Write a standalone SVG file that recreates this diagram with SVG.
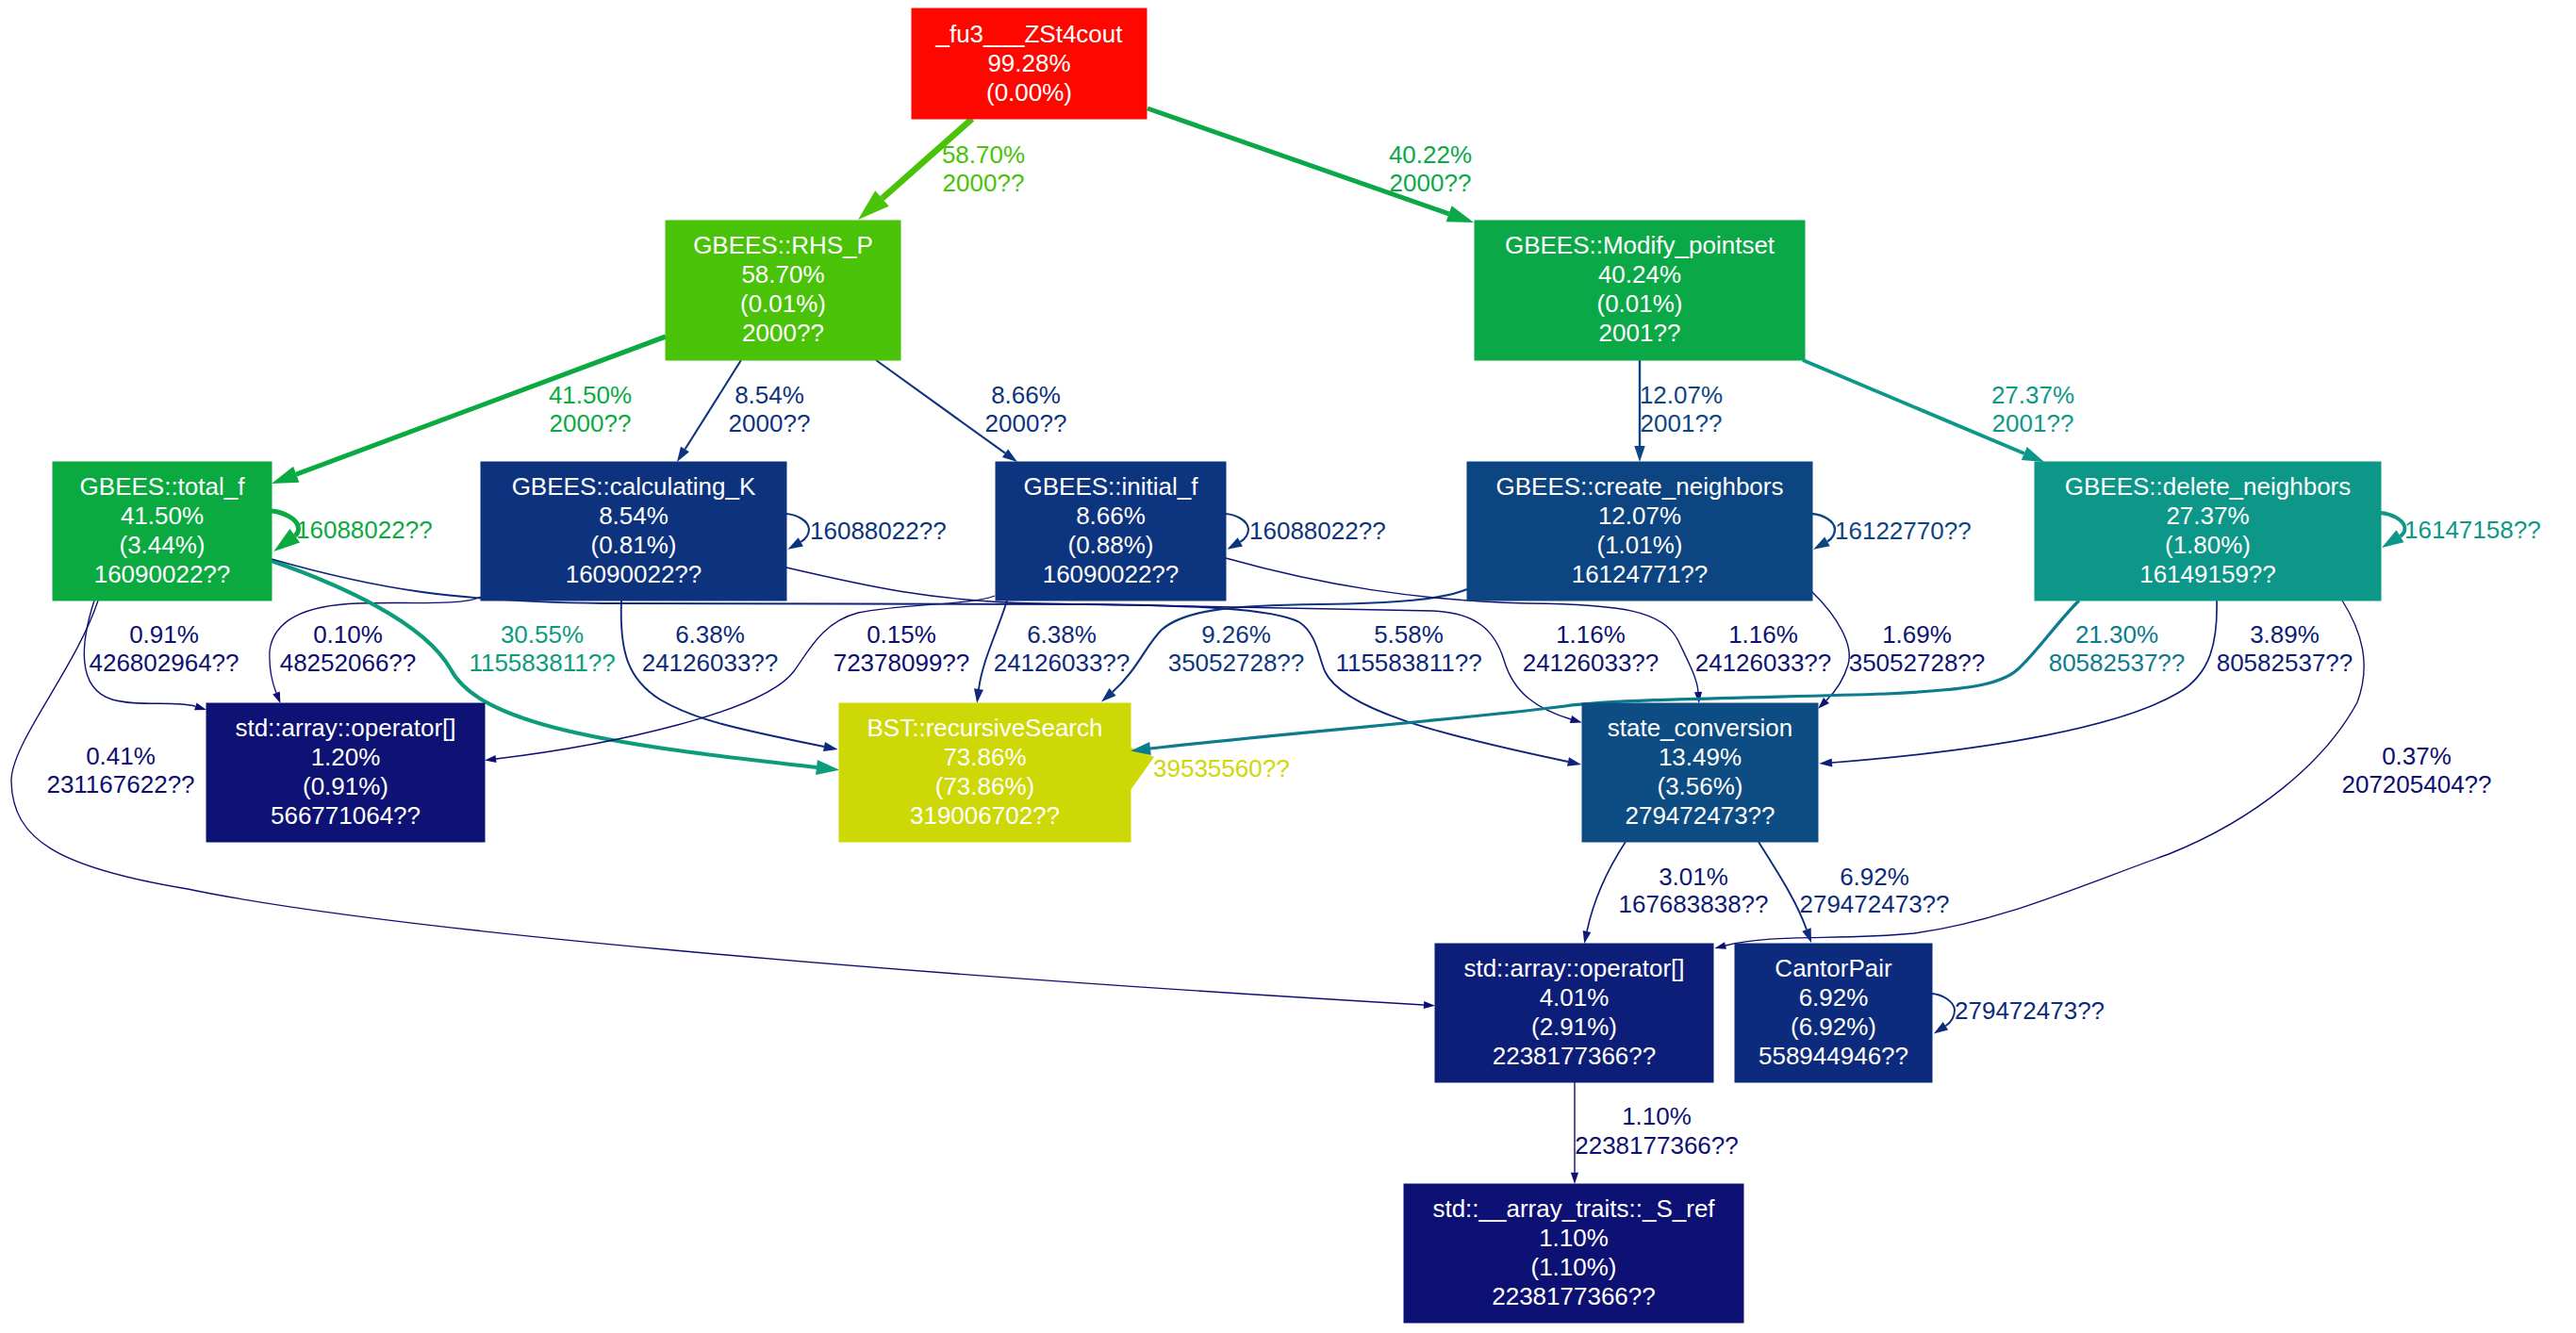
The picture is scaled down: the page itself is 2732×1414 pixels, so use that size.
<svg xmlns="http://www.w3.org/2000/svg" width="2732" height="1414" viewBox="0 0 2732 1414">
<style>
text{font-family:"Liberation Sans",Arial,Helvetica,sans-serif;font-size:26px}
.node rect{stroke-width:1}
.node text{fill:#ffffff;text-anchor:middle}
.edges path{fill:none;stroke-linejoin:round}
.el{text-anchor:middle}
.sl{text-anchor:start}
</style>
<defs>
<marker id="mA" markerUnits="userSpaceOnUse" orient="auto" refX="0" refY="0" markerWidth="40" markerHeight="30" overflow="visible"><path d="M0,-11L34,0L0,11Z" fill="#49c208"/></marker>
<marker id="mB" markerUnits="userSpaceOnUse" orient="auto" refX="0" refY="0" markerWidth="40" markerHeight="30" overflow="visible"><path d="M0,-9L28,0L0,9Z" fill="#0ba848"/></marker>
<marker id="mC" markerUnits="userSpaceOnUse" orient="auto" refX="0" refY="0" markerWidth="40" markerHeight="30" overflow="visible"><path d="M0,-9L28,0L0,9Z" fill="#0baa41"/></marker>
<marker id="mD" markerUnits="userSpaceOnUse" orient="auto" refX="0" refY="0" markerWidth="40" markerHeight="30" overflow="visible"><path d="M0,-8L24.5,0L0,8Z" fill="#0c9b7b"/></marker>
<marker id="mE" markerUnits="userSpaceOnUse" orient="auto" refX="0" refY="0" markerWidth="40" markerHeight="30" overflow="visible"><path d="M0,-7.6L23,0L0,7.6Z" fill="#0c9789"/></marker>
<marker id="mF" markerUnits="userSpaceOnUse" orient="auto" refX="0" refY="0" markerWidth="40" markerHeight="30" overflow="visible"><path d="M0,-7L21,0L0,7Z" fill="#0c7b8e"/></marker>
<marker id="mG" markerUnits="userSpaceOnUse" orient="auto" refX="0" refY="0" markerWidth="40" markerHeight="30" overflow="visible"><path d="M0,-5.7L17,0L0,5.7Z" fill="#0d4582"/></marker>
<marker id="mH" markerUnits="userSpaceOnUse" orient="auto" refX="0" refY="0" markerWidth="40" markerHeight="30" overflow="visible"><path d="M0,-5.3L16,0L0,5.3Z" fill="#0d337e"/></marker>
<marker id="mI" markerUnits="userSpaceOnUse" orient="auto" refX="0" refY="0" markerWidth="40" markerHeight="30" overflow="visible"><path d="M0,-5.3L16,0L0,5.3Z" fill="#0d347e"/></marker>
<marker id="mJ" markerUnits="userSpaceOnUse" orient="auto" refX="0" refY="0" markerWidth="40" markerHeight="30" overflow="visible"><path d="M0,-5.3L16,0L0,5.3Z" fill="#0d377f"/></marker>
<marker id="mK" markerUnits="userSpaceOnUse" orient="auto" refX="0" refY="0" markerWidth="40" markerHeight="30" overflow="visible"><path d="M0,-5L15,0L0,5Z" fill="#0d297b"/></marker>
<marker id="mL" markerUnits="userSpaceOnUse" orient="auto" refX="0" refY="0" markerWidth="40" markerHeight="30" overflow="visible"><path d="M0,-5L15,0L0,5Z" fill="#0d2b7c"/></marker>
<marker id="mM" markerUnits="userSpaceOnUse" orient="auto" refX="0" refY="0" markerWidth="40" markerHeight="30" overflow="visible"><path d="M0,-4.8L14.4,0L0,4.8Z" fill="#0d257a"/></marker>
<marker id="mN" markerUnits="userSpaceOnUse" orient="auto" refX="0" refY="0" markerWidth="40" markerHeight="30" overflow="visible"><path d="M0,-4.5L13.7,0L0,4.5Z" fill="#0d1d78"/></marker>
<marker id="mO" markerUnits="userSpaceOnUse" orient="auto" refX="0" refY="0" markerWidth="40" markerHeight="30" overflow="visible"><path d="M0,-4.4L13.3,0L0,4.4Z" fill="#0d1977"/></marker>
<marker id="mP" markerUnits="userSpaceOnUse" orient="auto" refX="0" refY="0" markerWidth="40" markerHeight="30" overflow="visible"><path d="M0,-4.2L12.5,0L0,4.2Z" fill="#0d1475"/></marker>
<marker id="mQ" markerUnits="userSpaceOnUse" orient="auto" refX="0" refY="0" markerWidth="40" markerHeight="30" overflow="visible"><path d="M0,-4.1L12.3,0L0,4.1Z" fill="#0d1274"/></marker>
<marker id="mR" markerUnits="userSpaceOnUse" orient="auto" refX="0" refY="0" markerWidth="40" markerHeight="30" overflow="visible"><path d="M0,-4.1L12.3,0L0,4.1Z" fill="#0d1174"/></marker>
<marker id="mS" markerUnits="userSpaceOnUse" orient="auto" refX="0" refY="0" markerWidth="40" markerHeight="30" overflow="visible"><path d="M0,-4L12,0L0,4Z" fill="#0d0e73"/></marker>
<marker id="mT" markerUnits="userSpaceOnUse" orient="auto" refX="0" refY="0" markerWidth="40" markerHeight="30" overflow="visible"><path d="M0,-4L12,0L0,4Z" fill="#0d0d73"/></marker>
</defs>
<rect width="2732" height="1414" fill="#ffffff"/>
<g id="edges" class="edges">
<path d="M1031,126L935.5,210.5" stroke="#49c208" stroke-width="6.6" marker-end="url(#mA)"/>
<path d="M1217,115L1536.6,226.8" stroke="#0ba848" stroke-width="5" marker-end="url(#mB)"/>
<path d="M706,357L314.2,503.2" stroke="#0baa41" stroke-width="5.1" marker-end="url(#mC)"/>
<path d="M786,382L726.5,476.5" stroke="#0d337e" stroke-width="2.1" marker-end="url(#mH)"/>
<path d="M929,382L1066,480.7" stroke="#0d347e" stroke-width="2.1" marker-end="url(#mI)"/>
<path d="M1739,382L1739,473" stroke="#0d4582" stroke-width="2.4" marker-end="url(#mG)"/>
<path d="M1912,382L2146.8,481" stroke="#0c9789" stroke-width="3.8" marker-end="url(#mE)"/>
<path d="M288,542C300,543 314,550 316,558C317,562 317,565 312.7,568.2" stroke="#0baa41" stroke-width="5.1" marker-end="url(#mC)"/>
<path d="M834,545C845,546 857,552 858,561C858,566 856,571 849.3,574.8" stroke="#0d337e" stroke-width="2.1" marker-end="url(#mH)"/>
<path d="M1300,545C1311,546 1323,552 1324,561C1324,566 1322,571 1315.3,574.8" stroke="#0d347e" stroke-width="2.1" marker-end="url(#mI)"/>
<path d="M1922,545C1933,546 1945,552 1946,561C1946,566 1944,571 1938,574.4" stroke="#0d4582" stroke-width="2.4" marker-end="url(#mG)"/>
<path d="M2525,544C2536,545 2548,551 2550,558C2551,562 2550,566 2545.5,568.8" stroke="#0c9789" stroke-width="3.8" marker-end="url(#mE)"/>
<path d="M2049,1054C2060,1055 2072,1062 2073,1071C2073,1077 2070,1084 2063.4,1088.3" stroke="#0d2b7c" stroke-width="1.9" marker-end="url(#mL)"/>
<polygon points="1199,793 1224,803 1199,838" fill="#ced806"/>
<path d="M100,637C86,680 80,730 119,742C145,750 188,743 207.3,749.3" stroke="#0d1174" stroke-width="1.4" marker-end="url(#mR)"/>
<path d="M510,633C490,643 430,638 380,640C320,642 290,660 286,690C285,710 289,725 293,735" stroke="#0d0d73" stroke-width="1.3" marker-end="url(#mT)"/>
<path d="M288,595C360,620 450,660 478,710C510,770 650,790 866,814" stroke="#0c9b7b" stroke-width="4.1" marker-end="url(#mD)"/>
<path d="M659,637C657,690 665,720 700,742C735,763 780,773 874,792" stroke="#0d297b" stroke-width="1.9" marker-end="url(#mK)"/>
<path d="M1055,632C1030,642 960,640 910,650C872,660 858,690 842,712C810,755 650,790 526,805" stroke="#0d0d73" stroke-width="1.3" marker-end="url(#mT)"/>
<path d="M1068,637C1058,670 1042,700 1038,731" stroke="#0d297b" stroke-width="1.9" marker-end="url(#mK)"/>
<path d="M1556,625C1530,636 1480,640 1400,641C1300,642 1255,648 1232,668C1215,685 1205,712 1180,734" stroke="#0d377f" stroke-width="2.2" marker-end="url(#mJ)"/>
<path d="M288,593C400,625 480,638 640,640L1150,641C1260,642 1350,645 1378,660C1396,672 1398,695 1405,712C1425,755 1540,782 1663,808" stroke="#0d257a" stroke-width="1.8" marker-end="url(#mM)"/>
<path d="M834,602C920,622 990,638 1100,640L1520,648C1565,650 1585,668 1595,700C1605,735 1630,752 1666,763" stroke="#0d1274" stroke-width="1.4" marker-end="url(#mQ)"/>
<path d="M1300,592C1400,620 1500,637 1620,640C1720,641 1765,648 1780,680C1792,705 1800,720 1801,734" stroke="#0d1274" stroke-width="1.4" marker-end="url(#mQ)"/>
<path d="M1921,627C1950,655 1966,685 1960,705C1955,722 1947,733 1937,743" stroke="#0d1475" stroke-width="1.45" marker-end="url(#mP)"/>
<path d="M2205,637C2180,662 2160,692 2140,710C2120,728 2080,732 2000,736C1880,740 1720,741 1660,749C1560,762 1360,778 1220,794" stroke="#0c7b8e" stroke-width="3.2" marker-end="url(#mF)"/>
<path d="M2351,637C2352,680 2345,715 2310,735C2250,770 2120,795 1943,809" stroke="#0d1d78" stroke-width="1.65" marker-end="url(#mN)"/>
<path d="M2484,637C2505,670 2515,705 2500,745C2465,810 2390,870 2300,906C2200,942 2120,978 2030,990C1950,998 1880,990 1830,1003" stroke="#0d0e73" stroke-width="1.35" marker-end="url(#mS)"/>
<path d="M104,637C80,710 10,790 12,830C14,890 60,920 199,943C400,985 900,1030 1510,1066" stroke="#0d0e73" stroke-width="1.35" marker-end="url(#mS)"/>
<path d="M1724,893C1705,922 1690,955 1683,988" stroke="#0d1977" stroke-width="1.57" marker-end="url(#mO)"/>
<path d="M1865,893C1885,925 1905,955 1916,986" stroke="#0d2b7c" stroke-width="1.9" marker-end="url(#mL)"/>
<path d="M1670,1148L1670,1243.7" stroke="#0d1174" stroke-width="1.4" marker-end="url(#mR)"/>
</g>
<g id="edge-labels">
<text class="el" fill="#49c208" x="1043" y="173">58.70%</text><text class="el" fill="#49c208" x="1043" y="203">2000??</text>
<text class="el" fill="#0ba848" x="1517" y="173">40.22%</text><text class="el" fill="#0ba848" x="1517" y="203">2000??</text>
<text class="el" fill="#0baa41" x="626" y="428">41.50%</text><text class="el" fill="#0baa41" x="626" y="458">2000??</text>
<text class="el" fill="#0d337e" x="816" y="428">8.54%</text><text class="el" fill="#0d337e" x="816" y="458">2000??</text>
<text class="el" fill="#0d347e" x="1088" y="428">8.66%</text><text class="el" fill="#0d347e" x="1088" y="458">2000??</text>
<text class="el" fill="#0d4582" x="1783" y="428">12.07%</text><text class="el" fill="#0d4582" x="1783" y="458">2001??</text>
<text class="el" fill="#0c9789" x="2156" y="428">27.37%</text><text class="el" fill="#0c9789" x="2156" y="458">2001??</text>
<text class="sl" fill="#0baa41" x="314" y="571">16088022??</text>
<text class="sl" fill="#0d337e" x="859" y="572">16088022??</text>
<text class="sl" fill="#0d347e" x="1325" y="572">16088022??</text>
<text class="sl" fill="#0d4582" x="1946" y="572">16122770??</text>
<text class="sl" fill="#0c9789" x="2550" y="571">16147158??</text>
<text class="sl" fill="#ced806" x="1223" y="824">39535560??</text>
<text class="sl" fill="#0d2b7c" x="2073" y="1081">279472473??</text>
<text class="el" fill="#0d1174" x="174" y="682">0.91%</text><text class="el" fill="#0d1174" x="174" y="712">426802964??</text>
<text class="el" fill="#0d0d73" x="369" y="682">0.10%</text><text class="el" fill="#0d0d73" x="369" y="712">48252066??</text>
<text class="el" fill="#0c9b7b" x="575" y="682">30.55%</text><text class="el" fill="#0c9b7b" x="575" y="712">115583811??</text>
<text class="el" fill="#0d297b" x="753" y="682">6.38%</text><text class="el" fill="#0d297b" x="753" y="712">24126033??</text>
<text class="el" fill="#0d0d73" x="956" y="682">0.15%</text><text class="el" fill="#0d0d73" x="956" y="712">72378099??</text>
<text class="el" fill="#0d297b" x="1126" y="682">6.38%</text><text class="el" fill="#0d297b" x="1126" y="712">24126033??</text>
<text class="el" fill="#0d377f" x="1311" y="682">9.26%</text><text class="el" fill="#0d377f" x="1311" y="712">35052728??</text>
<text class="el" fill="#0d257a" x="1494" y="682">5.58%</text><text class="el" fill="#0d257a" x="1494" y="712">115583811??</text>
<text class="el" fill="#0d1274" x="1687" y="682">1.16%</text><text class="el" fill="#0d1274" x="1687" y="712">24126033??</text>
<text class="el" fill="#0d1274" x="1870" y="682">1.16%</text><text class="el" fill="#0d1274" x="1870" y="712">24126033??</text>
<text class="el" fill="#0d1475" x="2033" y="682">1.69%</text><text class="el" fill="#0d1475" x="2033" y="712">35052728??</text>
<text class="el" fill="#0c7b8e" x="2245" y="682">21.30%</text><text class="el" fill="#0c7b8e" x="2245" y="712">80582537??</text>
<text class="el" fill="#0d1d78" x="2423" y="682">3.89%</text><text class="el" fill="#0d1d78" x="2423" y="712">80582537??</text>
<text class="el" fill="#0d0e73" x="128" y="811">0.41%</text><text class="el" fill="#0d0e73" x="128" y="841">231167622??</text>
<text class="el" fill="#0d0e73" x="2563" y="811">0.37%</text><text class="el" fill="#0d0e73" x="2563" y="841">207205404??</text>
<text class="el" fill="#0d1977" x="1796" y="939">3.01%</text><text class="el" fill="#0d1977" x="1796" y="968">167683838??</text>
<text class="el" fill="#0d2b7c" x="1988" y="939">6.92%</text><text class="el" fill="#0d2b7c" x="1988" y="968">279472473??</text>
<text class="el" fill="#0d1174" x="1757" y="1193">1.10%</text><text class="el" fill="#0d1174" x="1757" y="1224">2238177366??</text>
</g>
<g id="n_fu3" class="node"><rect x="967" y="9" width="249" height="117" fill="#fe0700" stroke="#fe0700"/><text x="1091.5" y="45">_fu3___ZSt4cout</text><text x="1091.5" y="76">99.28%</text><text x="1091.5" y="107">(0.00%)</text></g>
<g id="n_rhs_p" class="node"><rect x="706" y="234" width="249" height="148" fill="#49c208" stroke="#49c208"/><text x="830.5" y="269">GBEES::RHS_P</text><text x="830.5" y="300">58.70%</text><text x="830.5" y="331">(0.01%)</text><text x="830.5" y="362">2000??</text></g>
<g id="n_modify" class="node"><rect x="1564" y="234" width="350" height="148" fill="#0ba848" stroke="#0ba848"/><text x="1739" y="269">GBEES::Modify_pointset</text><text x="1739" y="300">40.24%</text><text x="1739" y="331">(0.01%)</text><text x="1739" y="362">2001??</text></g>
<g id="n_total_f" class="node"><rect x="56" y="490" width="232" height="147" fill="#0baa41" stroke="#0baa41"/><text x="172" y="525">GBEES::total_f</text><text x="172" y="556">41.50%</text><text x="172" y="587">(3.44%)</text><text x="172" y="618">16090022??</text></g>
<g id="n_calc_k" class="node"><rect x="510" y="490" width="324" height="147" fill="#0d337e" stroke="#0d337e"/><text x="672" y="525">GBEES::calculating_K</text><text x="672" y="556">8.54%</text><text x="672" y="587">(0.81%)</text><text x="672" y="618">16090022??</text></g>
<g id="n_initial_f" class="node"><rect x="1056" y="490" width="244" height="147" fill="#0d347e" stroke="#0d347e"/><text x="1178" y="525">GBEES::initial_f</text><text x="1178" y="556">8.66%</text><text x="1178" y="587">(0.88%)</text><text x="1178" y="618">16090022??</text></g>
<g id="n_create" class="node"><rect x="1556" y="490" width="366" height="147" fill="#0d4582" stroke="#0d4582"/><text x="1739" y="525">GBEES::create_neighbors</text><text x="1739" y="556">12.07%</text><text x="1739" y="587">(1.01%)</text><text x="1739" y="618">16124771??</text></g>
<g id="n_delete" class="node"><rect x="2158" y="490" width="367" height="147" fill="#0c9789" stroke="#0c9789"/><text x="2341.5" y="525">GBEES::delete_neighbors</text><text x="2341.5" y="556">27.37%</text><text x="2341.5" y="587">(1.80%)</text><text x="2341.5" y="618">16149159??</text></g>
<g id="n_op1" class="node"><rect x="219" y="746" width="295" height="147" fill="#0d1274" stroke="#0d1274"/><text x="366.5" y="781">std::array::operator[]</text><text x="366.5" y="812">1.20%</text><text x="366.5" y="843">(0.91%)</text><text x="366.5" y="874">566771064??</text></g>
<g id="n_bst" class="node"><rect x="890" y="746" width="309" height="147" fill="#ced806" stroke="#ced806"/><text x="1044.5" y="781">BST::recursiveSearch</text><text x="1044.5" y="812">73.86%</text><text x="1044.5" y="843">(73.86%)</text><text x="1044.5" y="874">319006702??</text></g>
<g id="n_state" class="node"><rect x="1678" y="746" width="250" height="147" fill="#0d4d84" stroke="#0d4d84"/><text x="1803" y="781">state_conversion</text><text x="1803" y="812">13.49%</text><text x="1803" y="843">(3.56%)</text><text x="1803" y="874">279472473??</text></g>
<g id="n_op2" class="node"><rect x="1522" y="1001" width="295" height="147" fill="#0d1e78" stroke="#0d1e78"/><text x="1669.5" y="1036">std::array::operator[]</text><text x="1669.5" y="1067">4.01%</text><text x="1669.5" y="1098">(2.91%)</text><text x="1669.5" y="1129">2238177366??</text></g>
<g id="n_cantor" class="node"><rect x="1840" y="1001" width="209" height="147" fill="#0d2b7c" stroke="#0d2b7c"/><text x="1944.5" y="1036">CantorPair</text><text x="1944.5" y="1067">6.92%</text><text x="1944.5" y="1098">(6.92%)</text><text x="1944.5" y="1129">558944946??</text></g>
<g id="n_s_ref" class="node"><rect x="1489" y="1256" width="360" height="147" fill="#0d1174" stroke="#0d1174"/><text x="1669" y="1291">std::__array_traits::_S_ref</text><text x="1669" y="1322">1.10%</text><text x="1669" y="1353">(1.10%)</text><text x="1669" y="1384">2238177366??</text></g>
</svg>
